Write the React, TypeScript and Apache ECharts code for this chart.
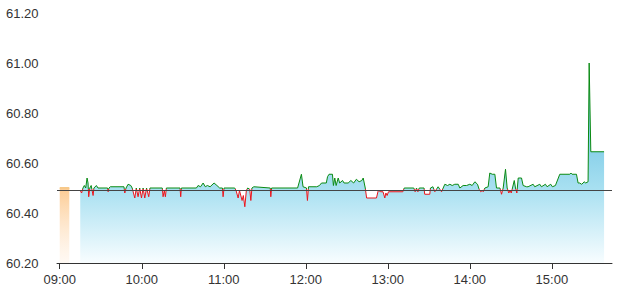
import React, { useEffect, useRef } from "react";
import * as echarts from "echarts";

// minutes after 09:00
const yTicks = [60.2, 60.4, 60.6, 60.8, 61.0, 61.2];
const prevClose = 60.495;
const axisStartMinute = -2;
const axisEndMinute = 404;

// pre-open auction bar
const auctionMinutes = [0, 7];
const auctionPrices = [60.5, 60.5];

const minutes = [
  15, 16, 17, 18, 19, 20, 20.7, 21.2, 22, 23, 24.4, 25, 26.8, 28, 35, 35.4, 36, 37, 47, 47.6,
  48.5, 50, 52, 53, 54.9, 56, 57.3, 58.5, 59.8, 61, 62.2, 63.5, 65.1, 66, 75, 75.6, 76.5, 77.3, 78, 88,
  88.5, 89, 100, 101.2, 103, 104.9, 106.5, 108, 110, 112.9, 115, 117, 119, 119.5, 120.2, 128, 129, 130.5, 131.5, 133.4,
  134.3, 135.4, 136.5, 137.5, 139, 139.8, 140.6, 142, 154, 154.4, 155, 174, 176.8, 178, 180.5, 181.2, 182, 188, 190, 191.5,
  195, 195.9, 197, 199.5, 200.2, 201.2, 202.2, 203.7, 204.8, 206.9, 208, 211, 213, 215, 217, 219, 221, 222, 223.5, 224.5,
  231.7, 233, 234.9, 236.5, 237.8, 238.6, 239.5, 240.5, 251, 252, 259, 260, 261, 262, 263, 266.5, 267, 270.7, 271.2, 273,
  274.4, 276.8, 279.3, 280.5, 281.7, 283.7, 285.4, 287.1, 289, 291.5, 292.7, 295.1, 297.6, 300, 301.7, 303.7, 305.6, 306.8, 308, 309,
  309.8, 311, 313.4, 314.6, 316.4, 318.3, 319.5, 322, 323.2, 324.4, 326.1, 327.3, 328.5, 329.5, 330.3, 331.2, 332.5, 333.4, 334.4, 335.4,
  337.8, 339, 341.5, 342.6, 346.3, 347.5, 351.2, 352.4, 355.3, 356.5, 359.2, 360.4, 362.6, 365.8, 373.1, 373.9, 374.8, 378, 379.2, 380.4,
  381.7, 382.9, 383.6, 384.8, 386.5, 387.3, 388.5, 398.2,
];
const prices = [
  60.49, 60.48, 60.5, 60.51, 60.5, 60.54, 60.52, 60.465, 60.5, 60.51, 60.47, 60.5, 60.51, 60.5, 60.5, 60.485, 60.5, 60.505, 60.505, 60.48,
  60.5, 60.515, 60.51, 60.5, 60.46, 60.5, 60.465, 60.5, 60.46, 60.5, 60.46, 60.5, 60.465, 60.5, 60.5, 60.465, 60.49, 60.465, 60.5, 60.5,
  60.465, 60.5, 60.5, 60.51, 60.505, 60.52, 60.505, 60.51, 60.505, 60.52, 60.51, 60.5, 60.5, 60.465, 60.5, 60.5, 60.49, 60.46, 60.49, 60.45,
  60.47, 60.425, 60.49, 60.5, 60.495, 60.45, 60.5, 60.505, 60.5, 60.465, 60.5, 60.5, 60.555, 60.505, 60.5, 60.45, 60.505, 60.505, 60.51, 60.52,
  60.52, 60.545, 60.555, 60.555, 60.51, 60.54, 60.51, 60.54, 60.52, 60.53, 60.52, 60.52, 60.53, 60.52, 60.535, 60.525, 60.53, 60.54, 60.5, 60.46,
  60.46, 60.49, 60.485, 60.485, 60.46, 60.48, 60.47, 60.485, 60.485, 60.5, 60.5, 60.485, 60.5, 60.485, 60.5, 60.5, 60.475, 60.475, 60.5, 60.505,
  60.485, 60.505, 60.485, 60.5, 60.515, 60.51, 60.515, 60.51, 60.515, 60.515, 60.5, 60.51, 60.51, 60.515, 60.51, 60.525, 60.515, 60.495, 60.485, 60.49,
  60.485, 60.5, 60.505, 60.56, 60.555, 60.555, 60.5, 60.5, 60.475, 60.5, 60.575, 60.5, 60.48, 60.49, 60.48, 60.5, 60.53, 60.5, 60.48, 60.54,
  60.54, 60.51, 60.505, 60.505, 60.515, 60.505, 60.515, 60.505, 60.515, 60.505, 60.515, 60.505, 60.51, 60.555, 60.555, 60.56, 60.555, 60.555, 60.52, 60.52,
  60.515, 60.52, 60.525, 60.52, 60.525, 61.0, 60.645, 60.645,
];

const T0 = new Date(2024, 0, 2, 9, 0, 0).getTime();
const toTs = (m: number) => T0 + Math.round(m * 60000);
const fmtTime = (ts: number) => {
  const d = new Date(ts);
  return String(d.getHours()).padStart(2, "0") + ":" + String(d.getMinutes()).padStart(2, "0");
};

export default function App() {
  const ref = useRef<HTMLDivElement>(null);
  useEffect(() => {
    if (!ref.current) return;
    const chart = echarts.init(ref.current, undefined, { renderer: "svg" });
    const font = "Arial, 'Liberation Sans', sans-serif";
    chart.setOption({
      animation: false,
      backgroundColor: "#ffffff",
      grid: { left: 57, right: 6, top: 13, bottom: 38 },
      xAxis: {
        type: "time",
        min: toTs(axisStartMinute),
        max: toTs(axisEndMinute),
        minInterval: 3600000,
        maxInterval: 3600000,
        splitLine: { show: false },
        axisLine: { show: true, lineStyle: { color: "#333", width: 1 } },
        axisTick: { show: true, length: 6, lineStyle: { color: "#333" } },
        axisLabel: {
          formatter: (v: number) => fmtTime(v),
          color: "#333",
          fontSize: 13,
          fontFamily: font,
          margin: 10,
          showMinLabel: false,
          showMaxLabel: false,
        },
      },
      yAxis: {
        type: "value",
        min: yTicks[0],
        max: yTicks[yTicks.length - 1],
        interval: 0.2,
        splitLine: { show: false },
        axisLine: { show: false },
        axisTick: { show: false },
        axisLabel: {
          formatter: (v: number) => v.toFixed(2),
          color: "#333",
          fontSize: 13,
          fontFamily: font,
          align: "left",
          margin: 51,
        },
      },
      visualMap: {
        type: "piecewise",
        show: false,
        seriesIndex: 1,
        dimension: 1,
        pieces: [
          { gt: prevClose, lte: 70, color: "#0a8a12" },
          { gte: 50, lte: prevClose, color: "#e8141c" },
        ],
      },
      series: [
        {
          type: "line",
          data: auctionMinutes.map((m, i) => [toTs(m), auctionPrices[i]]),
          symbol: "none",
          lineStyle: { color: "#f7c98a", width: 2 },
          areaStyle: {
            origin: "start",
            color: new echarts.graphic.LinearGradient(0, 0, 0, 1, [
              { offset: 0, color: "rgba(252,200,140,0.95)" },
              { offset: 1, color: "rgba(255,240,225,0.4)" },
            ]),
            opacity: 1,
          },
          silent: true,
        },
        {
          type: "line",
          data: minutes.map((m, i) => [toTs(m), prices[i]]),
          symbol: "none",
          showSymbol: false,
          lineStyle: { width: 1 },
          areaStyle: {
            origin: "start",
            opacity: 1,
            color: new echarts.graphic.LinearGradient(0, 0, 0, 1, [
              { offset: 0, color: "rgb(110,196,226)" },
              { offset: 0.45, color: "rgb(140,210,234)" },
              { offset: 0.63, color: "rgb(168,224,241)" },
              { offset: 1, color: "rgb(248,253,255)" },
            ]),
          },
          markLine: {
            silent: true,
            symbol: "none",
            label: { show: false },
            lineStyle: { color: "#444", width: 1, type: "solid" },
            data: [{ yAxis: prevClose }],
          },
        },
      ],
    });
    return () => chart.dispose();
  }, []);
  return (
    <div
      ref={ref}
      style={{ position: "fixed", left: 0, top: 0, width: 618, height: 301, background: "#fff" }}
    />
  );
}
